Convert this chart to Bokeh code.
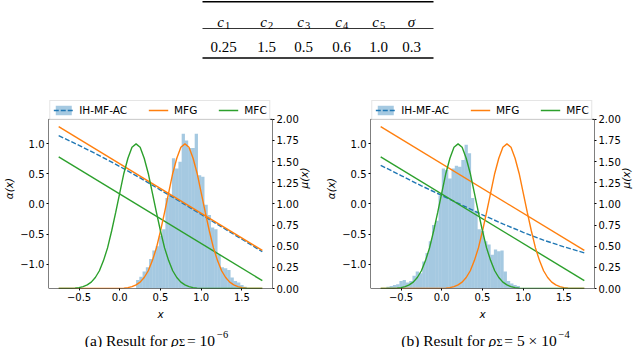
import math
import numpy as np
from bokeh.plotting import figure
from bokeh.models import Range1d, LinearAxis, FixedTicker, Legend, LegendItem, BoxAnnotation
from bokeh.layouts import column, row
from bokeh.embed import file_html
from bokeh.resources import INLINE
from bokeh.core.properties import value

# ---------------- data ----------------
param_names = ["c", "c", "c", "c", "c", "σ"]
param_subscripts = ["1", "2", "3", "4", "5", ""]
param_values = ["0.25", "1.5", "0.5", "0.6", "1.0", "0.3"]

legend_labels = ["IH-MF-AC", "MFG", "MFC"]

line_x = [-0.75, 1.75]
mfg_alpha = [1.28, -0.77]
mfc_alpha = [0.78, -1.27]

ac_x = [-0.75, -0.5, -0.25, 0.0, 0.25, 0.5, 0.75, 1.0, 1.25, 1.5, 1.75]
ac_alpha_a = [1.13, 0.97, 0.80, 0.62, 0.43, 0.23, 0.03, -0.175, -0.38, -0.585, -0.79]
ac_alpha_b = [0.64, 0.47, 0.30, 0.14, -0.02, -0.18, -0.33, -0.47, -0.60, -0.71, -0.81]

density_x = [-0.75, -0.70, -0.65, -0.60, -0.55, -0.50, -0.45, -0.40, -0.35, -0.30,
             -0.25, -0.20, -0.15, -0.10, -0.05, 0.00, 0.05, 0.10, 0.15, 0.20,
             0.25, 0.30, 0.35, 0.40, 0.45, 0.50, 0.55, 0.60, 0.65, 0.70,
             0.75, 0.80, 0.85, 0.90, 0.95, 1.00, 1.05, 1.10, 1.15, 1.20,
             1.25, 1.30, 1.35, 1.40, 1.45, 1.50, 1.55, 1.60, 1.65, 1.70, 1.75]
mfg_density = [0, 0, 0, 0, 0, 0, 0, 0, 0, 0,
               0, 0, 0, 0, 0.001, 0.002, 0.005, 0.011, 0.022, 0.042,
               0.075, 0.13, 0.21, 0.33, 0.48, 0.68, 0.90, 1.13, 1.36, 1.54,
               1.67, 1.71, 1.67, 1.54, 1.36, 1.13, 0.90, 0.68, 0.48, 0.33,
               0.21, 0.13, 0.075, 0.042, 0.022, 0.011, 0.005, 0.002, 0.001, 0.0, 0.0]
mfc_density = [0.0, 0.0, 0.001, 0.002, 0.005, 0.011, 0.022, 0.042, 0.075, 0.13,
               0.21, 0.33, 0.48, 0.68, 0.90, 1.13, 1.36, 1.54, 1.67, 1.71,
               1.67, 1.54, 1.36, 1.13, 0.90, 0.68, 0.48, 0.33, 0.21, 0.13,
               0.075, 0.042, 0.022, 0.011, 0.005, 0.002, 0.001, 0, 0, 0,
               0, 0, 0, 0, 0, 0, 0, 0, 0, 0, 0]

hist_a_centers = [0.22, 0.26, 0.30, 0.34, 0.38, 0.42, 0.46, 0.50, 0.54, 0.58,
                  0.62, 0.66, 0.70, 0.74, 0.78, 0.82, 0.86, 0.90, 0.94, 0.98,
                  1.02, 1.06, 1.10, 1.14, 1.18, 1.22, 1.26, 1.30, 1.34, 1.38,
                  1.42, 1.46, 1.50, 1.54]
hist_a_heights = [0.10, 0.14, 0.20, 0.25, 0.35, 0.45, 0.50, 0.62, 0.70, 1.07,
                  1.10, 1.54, 1.42, 1.50, 1.83, 1.75, 1.66, 1.66, 1.83, 1.34,
                  1.32, 0.99, 0.87, 0.72, 0.70, 0.40, 0.25, 0.24, 0.22, 0.13,
                  0.09, 0.07, 0.04, 0.02]

hist_b_centers = [-0.66, -0.62, -0.58, -0.54, -0.50, -0.46, -0.42, -0.38, -0.34, -0.30,
                  -0.26, -0.22, -0.18, -0.14, -0.10, -0.06, -0.02, 0.02, 0.06, 0.10,
                  0.14, 0.18, 0.22, 0.26, 0.30, 0.34, 0.38, 0.42, 0.46, 0.50,
                  0.54, 0.58, 0.62, 0.66, 0.70, 0.74, 0.78, 0.82, 0.86, 0.90, 0.94]
hist_b_heights = [0.02, 0.03, 0.04, 0.05, 0.09, 0.10, 0.07, 0.09, 0.15, 0.20,
                  0.18, 0.32, 0.42, 0.56, 0.75, 0.80, 1.10, 1.42, 1.40, 1.30,
                  1.42, 1.45, 1.44, 1.52, 1.70, 1.60, 1.07, 0.92, 0.70, 0.68,
                  0.56, 0.52, 0.40, 0.46, 0.44, 0.45, 0.20, 0.09, 0.06, 0.04, 0.03]

x_ticks = [-0.5, 0.0, 0.5, 1.0, 1.5]
x_tick_labels = ["−0.5", "0.0", "0.5", "1.0", "1.5"]
alpha_ticks = [-1.0, -0.5, 0.0, 0.5, 1.0]
alpha_tick_labels = ["−1.0", "−0.5", "0.0", "0.5", "1.0"]
mu_ticks = [0.0, 0.25, 0.5, 0.75, 1.0, 1.25, 1.5, 1.75, 2.0]
mu_tick_labels = ["0.00", "0.25", "0.50", "0.75", "1.00", "1.25", "1.50", "1.75", "2.00"]

caption_a = [("(a) Result for ", "n"), ("ρ", "i"), ("Σ", "sub"), (" = 10", "n"), ("−6", "sup")]
caption_b = [("(b) Result for ", "n"), ("ρ", "i"), ("Σ", "sub"), (" = 5 × 10", "n"), ("−4", "sup")]

# ---------------- style ----------------
BLUE, ORANGE, GREEN = "#1f77b4", "#ff7f0e", "#2ca02c"
FONT = "DejaVu Sans"
SERIF = "Liberation Serif"
BIN_W = 0.04
LW = 1.4
X_LIM = (-0.875, 1.875)
ALPHA_LIM = (-1.4, 1.4)
MU_LIM = (0.0, 2.0)
BOX_PX = 170      # height of the axes box
HEAD_PX = 31      # free space above the box (holds the legend)


def style_axis(ax, ticks, labels, label, label_standoff=2):
    ax.ticker = FixedTicker(ticks=ticks)
    ax.major_label_overrides = {t: l for t, l in zip(ticks, labels)}
    ax.axis_line_color = None
    ax.major_tick_line_color = "black"
    ax.major_tick_in = 0
    ax.major_tick_out = 2
    ax.minor_tick_line_color = None
    ax.major_label_text_font = FONT
    ax.major_label_text_font_size = "10px"
    ax.major_label_text_color = "black"
    ax.major_label_standoff = 2
    ax.axis_label = label
    ax.axis_label_text_font = FONT
    ax.axis_label_text_font_size = "10.5px"
    ax.axis_label_text_font_style = "italic"
    ax.axis_label_text_color = "black"
    ax.axis_label_standoff = label_standoff


def make_panel(hc, hh, ac_alpha, width, mbl, mbr):
    a_top = ALPHA_LIM[1] + HEAD_PX * (ALPHA_LIM[1] - ALPHA_LIM[0]) / BOX_PX
    m_top = MU_LIM[1] + HEAD_PX * (MU_LIM[1] - MU_LIM[0]) / BOX_PX
    p = figure(width=width, height=HEAD_PX + BOX_PX + 33, output_backend="svg",
               toolbar_location=None, title=None,
               x_range=Range1d(*X_LIM), y_range=Range1d(ALPHA_LIM[0], a_top),
               min_border_left=mbl, min_border_right=mbr, min_border_top=0, min_border_bottom=33)
    p.extra_y_ranges = {"mu": Range1d(MU_LIM[0], m_top)}
    p.grid.visible = False
    p.outline_line_color = None
    p.background_fill_color = "white"
    p.border_fill_color = "white"
    hc = np.array(hc)
    hist = p.quad(left=hc - BIN_W / 2, right=hc + BIN_W / 2, bottom=0, top=hh, y_range_name="mu",
                  fill_color=BLUE, fill_alpha=0.4, line_color=None)
    ac = p.line(ac_x, ac_alpha, line_color=BLUE, line_width=LW, line_dash="5 2")
    mfg = p.line(line_x, mfg_alpha, line_color=ORANGE, line_width=LW)
    mfc = p.line(line_x, mfc_alpha, line_color=GREEN, line_width=LW)
    p.line(density_x, mfg_density, y_range_name="mu", line_color=ORANGE, line_width=LW)
    p.line(density_x, mfc_density, y_range_name="mu", line_color=GREEN, line_width=LW)
    p.add_layout(BoxAnnotation(left=X_LIM[0], right=X_LIM[1], bottom=ALPHA_LIM[0], top=ALPHA_LIM[1],
                               fill_color=None, fill_alpha=0, line_color="black", line_width=1,
                               line_alpha=1))

    mu_axis = LinearAxis(y_range_name="mu")
    p.add_layout(mu_axis, "right")
    style_axis(p.below[0], x_ticks, x_tick_labels, "x", label_standoff=4)
    style_axis(p.left[0], alpha_ticks, alpha_tick_labels, "α(x)")
    style_axis(mu_axis, mu_ticks, mu_tick_labels, "μ(x)")
    try:
        mu_axis.axis_label_orientation = math.pi / 2
    except Exception:
        pass

    legend = Legend(items=[LegendItem(label=legend_labels[0], renderers=[hist, ac]),
                           LegendItem(label=legend_labels[1], renderers=[mfg]),
                           LegendItem(label=legend_labels[2], renderers=[mfc])],
                    location="top_center", orientation="horizontal", margin=12, padding=3,
                    spacing=21, glyph_width=20, glyph_height=12, label_standoff=6, label_height=12,
                    label_width=10,
                    label_text_font=FONT, label_text_font_size="10.5px", label_text_color="black",
                    border_line_color="#cccccc", border_line_width=1, background_fill_alpha=0.8)
    p.add_layout(legend)
    return p


p1 = make_panel(hist_a_centers, hist_a_heights, ac_alpha_a, 320, 43, 48)
p2 = make_panel(hist_b_centers, hist_b_heights, ac_alpha_b, 320, 50, 41)

# ---------------- table ----------------
tab = figure(width=640, height=88, x_range=Range1d(0, 640), y_range=Range1d(88, 0),
             output_backend="svg", toolbar_location=None, x_axis_type=None, y_axis_type=None,
             min_border=0, outline_line_color=None, title=None)
tab.grid.visible = False
col_x = [223, 266, 303, 341, 378, 411]
tab.segment(x0=[202, 202, 202], x1=[433, 433, 433], y0=[1.2, 28, 57.5], y1=[1.2, 28, 57.5],
            line_color="black", line_width=[1.6, 0.8, 1.6])
name_x = [cx - 3 if s else cx for cx, s in zip(col_x, param_subscripts)]
tab.text(x=name_x, y=[21.5] * 6, text=param_names, text_font=value(SERIF), text_font_size="15px",
         text_font_style="italic", text_align="center", text_baseline="alphabetic", text_color="black")
sub_x = [cx + 4 for cx, s in zip(col_x, param_subscripts) if s]
tab.text(x=sub_x, y=[24.5] * len(sub_x), text=[s for s in param_subscripts if s], text_font=value(SERIF),
         text_font_size="10.5px", text_align="center", text_baseline="alphabetic", text_color="black")
tab.text(x=col_x, y=[46] * 6, text=param_values, text_font=value(SERIF), text_font_size="15px",
         text_align="center", text_baseline="alphabetic", text_color="black")

# ---------------- captions ----------------
cap = figure(width=640, height=25, x_range=Range1d(0, 640), y_range=Range1d(347, 322),
             output_backend="svg", toolbar_location=None, x_axis_type=None, y_axis_type=None,
             min_border=0, outline_line_color=None, title=None)
cap.grid.visible = False
CW = {"(": .333, ")": .333, "a": .444, "b": .5, " ": .25, "R": .667, "e": .444, "s": .389,
      "u": .5, "l": .278, "t": .278, "f": .333, "o": .5, "r": .333, "=": .564, "×": .564,
      "−": .564, "ρ": .5, "Σ": .75}
BIG, SMALL = 15.5, 10.5
NUDGE = {"n": 0, "i": 0, "sub": 0, "sup": -2}


def place_caption(pieces, center):
    sizes = {"n": BIG, "i": BIG, "sub": SMALL, "sup": SMALL}
    widths = [sum(CW.get(ch, .5) for ch in t) * sizes[k] + NUDGE[k] for t, k in pieces]
    x = center - sum(widths) / 2
    for (t, k), w in zip(pieces, widths):
        y = {"n": 339.5, "i": 339.5, "sub": 342, "sup": 334}[k]
        cap.text(x=[x + NUDGE[k]], y=[y], text=[t], text_font=value(SERIF),
                 text_font_size=f"{sizes[k]}px",
                 text_font_style="italic" if k == "i" else "normal", text_align="left",
                 text_baseline="alphabetic", text_color="black")
        x += w


place_caption(caption_a, 156)
place_caption(caption_b, 485)

layout = column(tab, row(p1, p2), cap)
open("out.html", "w").write(file_html(layout, INLINE))
